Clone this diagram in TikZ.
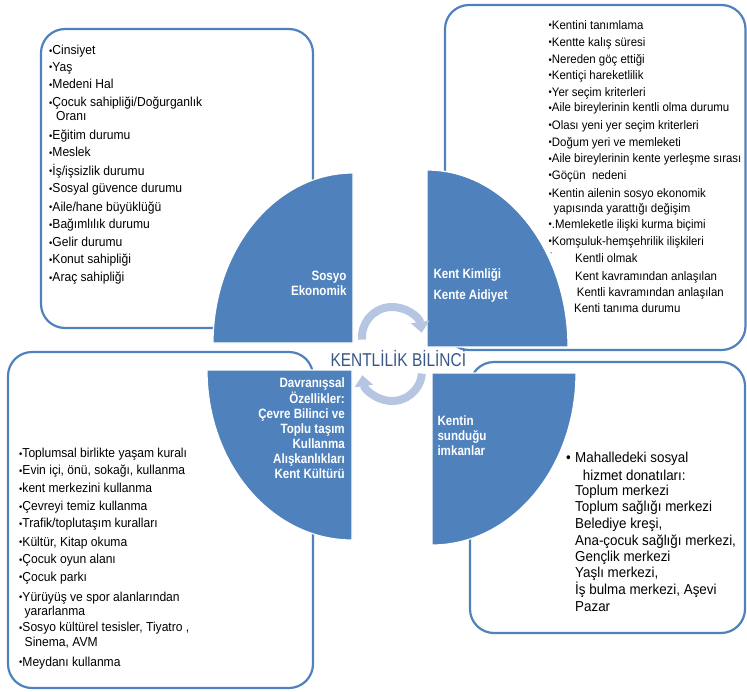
\documentclass[tikz,border=0pt]{standalone}
\usepackage{fontspec}
\setmainfont{Liberation Sans}
\newfontfamily\bodyf{Liberation Sans}[FakeStretch=0.93]
\newfontfamily\labf{Liberation Sans}[FakeStretch=0.86]
\newfontfamily\titf{Liberation Sans}[FakeStretch=0.83]
\usetikzlibrary{arrows.meta}
\definecolor{qblue}{RGB}{79,129,189}
\definecolor{arrc}{RGB}{182,198,226}
\definecolor{titc}{RGB}{55,87,135}
\newcommand\bu{\raisebox{0.4pt}{\fontsize{10}{10}\selectfont •}}
\begin{document}
\begin{tikzpicture}[x=1pt,y=1pt,
  box/.style={draw=qblue,line width=2.2pt,rounded corners=24pt},
  quad/.style={fill=qblue,draw=white,line width=1.2pt},
  tltext/.style={anchor=base west,inner sep=0pt,font=\bodyf\fontsize{13}{15}\selectfont},
  trtext/.style={anchor=base west,inner sep=0pt,font=\bodyf\fontsize{12.3}{14}\selectfont},
  brtext/.style={anchor=base west,inner sep=0pt,font=\bodyf\fontsize{14.4}{16}\selectfont},
  labr/.style={anchor=base east,inner sep=0pt,text=white,font=\labf\bfseries\fontsize{13.5}{15}\selectfont},
  labl/.style={anchor=base west,inner sep=0pt,text=white,font=\labf\bfseries\fontsize{13.5}{15}\selectfont},
  cyc/.style={draw=arrc,line width=8pt,-{Triangle[width=18pt,length=11pt]}}
]
\useasboundingbox (0,0) rectangle (747,-691);

% outer boxes
\draw[box] (41,-29) rectangle (313,-328);
\draw[box] (445,-5) rectangle (745.5,-350);
\draw[box] (8,-352) rectangle (313,-688);
\draw[box] (470,-362) rectangle (745,-633);

% quadrants
\filldraw[quad] (353,-343) -- (213,-343) arc[start angle=180,end angle=90,x radius=140,y radius=170] -- cycle;
\filldraw[quad] (427,-347) -- (427,-170) arc[start angle=90,end angle=0,x radius=141,y radius=177] -- cycle;
\filldraw[quad] (352,-370) -- (207,-370) arc[start angle=180,end angle=270,x radius=145,y radius=170] -- cycle;
\filldraw[quad] (432,-373) -- (576,-373) arc[start angle=0,end angle=-90,x radius=144,y radius=172] -- cycle;

% circular arrows
\coordinate (cu) at (392,-337);
\coordinate (cl) at (392,-371);
\draw[cyc] (cu) ++(185:30) arc[start angle=185,end angle=8,radius=30];
\draw[cyc] (cl) ++(-5:30) arc[start angle=-5,end angle=-172,radius=30];

% centre title
\node[anchor=base,inner sep=0pt,text=titc,font=\titf\fontsize{18.6}{20}\selectfont] (title) at (398.3,-366.7) {KENTLİLİK BİLİNCİ};

% quadrant labels
\foreach \y/\t [count=\i] in {280.8/Sosyo, 295.5/Ekonomik}
  \node[labr] (qa\i) at (346.7,-\y) {\t};
\foreach \y/\t [count=\i] in {278.8/Kent Kimliği, 299.8/Kente Aidiyet}
  \node[labl] (qb\i) at (433.3,-\y) {\t};
\foreach \y/\t [count=\i] in {387.5/Davranışsal, 403.1/Özellikler:, 418.1/Çevre Bilinci ve, 433.5/Toplu taşım, 448.1/Kullanma, 463.1/Alışkanlıkları, 478.8/Kent Kültürü}
  \node[labr] (qc\i) at (345,-\y) {\t};
\foreach \y/\t [count=\i] in {425.5/Kentin, 440.8/sunduğu, 455.5/imkanlar}
  \node[labl] (qd\i) at (437.3,-\y) {\t};

% top-left list
\foreach \y/\x/\t [count=\i] in {
  54.5/49/{\bu Cinsiyet},
  71.2/49/{\bu Yaş},
  88.8/49/{\bu Medeni Hal},
  106.8/49/{\bu Çocuk sahipliği/Doğurganlık},
  120.2/56/{Oranı},
  139.5/49/{\bu Eğitim durumu},
  156.8/49/{\bu Meslek},
  175.2/49/{\bu İş/işsizlik durumu},
  192.8/49/{\bu Sosyal güvence durumu},
  211.2/49/{\bu Aile/hane büyüklüğü},
  228.5/49/{\bu Bağımlılık durumu},
  246.8/49/{\bu Gelir durumu},
  263.8/49/{\bu Konut sahipliği},
  281.8/49/{\bu Araç sahipliği}}
  \node[tltext] (ta\i) at (\x,-\y) {\t};

% top-right list
\foreach \y/\x/\t [count=\i] in {
  29.3/548.5/{\bu Kentini tanımlama},
  46/548.5/{\bu Kentte kalış süresi},
  63.6/548.5/{\bu Nereden göç ettiği},
  79.3/548.5/{\bu Kentiçi hareketlilik},
  96/548.5/{\bu Yer seçim kriterleri},
  111.6/548.5/{\bu Aile bireylerinin kentli olma durumu},
  129.3/548.5/{\bu Olası yeni yer seçim kriterleri},
  146/548.5/{\bu Doğum yeri ve memleketi},
  162.6/548.5/{\bu Aile bireylerinin kente yerleşme sırası},
  179/548.5/{\bu Göçün\ \ nedeni},
  197.6/548.5/{\bu Kentin ailenin sosyo ekonomik},
  212.6/553.5/{yapısında yarattığı değişim},
  228.3/548.5/{\bu .Memleketle ilişki kurma biçimi},
  245/548.5/{\bu Komşuluk-hemşehrilik ilişkileri},
  262.6/575/{Kentli olmak},
  280.3/575/{Kent kavramından anlaşılan},
  296.6/576.7/{Kentli kavramından anlaşılan},
  312.6/574/{Kenti tanıma durumu}}
  \node[trtext] (tb\i) at (\x,-\y) {\t};
\node[anchor=base west,inner sep=0pt,font=\bodyf\fontsize{8}{8}\selectfont] (tick) at (550,-258) {\symbol{96}};

% bottom-left list
\foreach \y/\x/\t [count=\i] in {
  457.8/19/{\bu Toplumsal birlikte yaşam kuralı},
  474.5/19/{\bu Evin içi, önü, sokağı, kullanma},
  492.8/19/{\bu kent merkezini kullanma},
  510.5/19/{\bu Çevreyi temiz kullanma},
  527.8/19/{\bu Trafik/toplutaşım kuralları},
  546.2/19/{\bu Kültür, Kitap okuma},
  563.8/19/{\bu Çocuk oyun alanı},
  581.2/19/{\bu Çocuk parkı},
  601.2/19/{\bu Yürüyüş ve spor alanlarından},
  615.2/24.5/{yararlanma},
  631.8/19/{\bu Sosyo kültürel tesisler, Tiyatro ,},
  646.2/24.5/{Sinema, AVM},
  666.2/19/{\bu Meydanı kullanma}}
  \node[tltext] (tc\i) at (\x,-\y) {\t};

% bottom-right list
\node[brtext] (bul) at (566,-462.3) {•};
\foreach \y/\x/\t [count=\i] in {
  462.3/575/{Mahalledeki sosyal},
  480/582.7/{hizmet donatıları:},
  495/575/{Toplum merkezi},
  511.7/575/{Toplum sağlığı merkezi},
  528.3/575/{Belediye kreşi,},
  545/575/{Ana-çocuk sağlığı merkezi,},
  561.7/575/{Gençlik merkezi},
  577.7/575/{Yaşlı merkezi,},
  594.3/575/{İş bulma merkezi, Aşevi},
  611.7/575/{Pazar}}
  \node[brtext] (td\i) at (\x,-\y) {\t};
\end{tikzpicture}
\end{document}
